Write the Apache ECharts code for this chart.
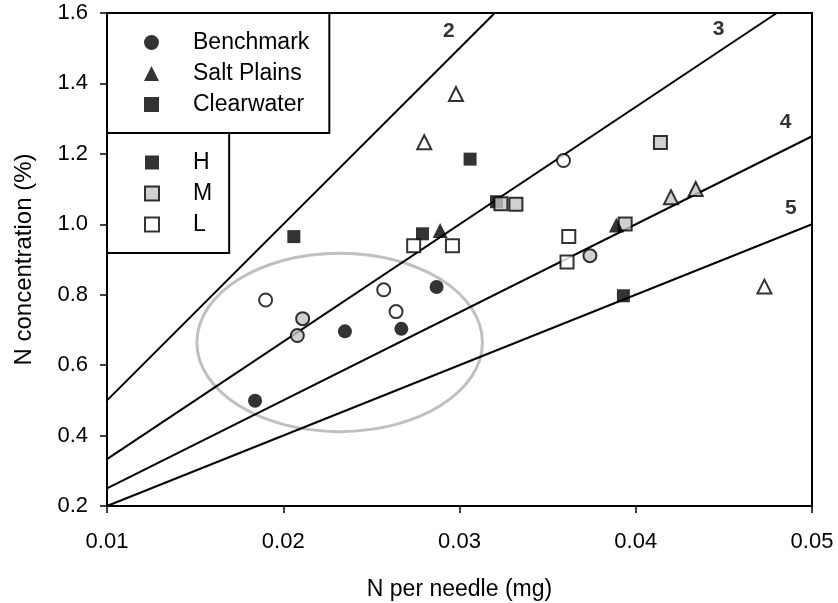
<!DOCTYPE html>
<html>
<head>
<meta charset="utf-8">
<title>N concentration vs N per needle</title>
<script src="https://cdn.jsdelivr.net/npm/echarts@6.0.0/dist/echarts.min.js"></script>
<style>
  html, body { margin: 0; padding: 0; background: #fff; }
  #chart { width: 838px; height: 603px; }
</style>
</head>
<body>
<div id="chart"></div>
<script>
// axis ticks
const xTicks = [0.01, 0.02, 0.03, 0.04, 0.05];
const yTicks = [0.2, 0.4, 0.6, 0.8, 1.0, 1.2, 1.4, 1.6];

// Benchmark = circles
const benchmarkH = [[0.0184, 0.499], [0.0235, 0.696], [0.0267, 0.703], [0.0287, 0.822]];
const benchmarkM = [[0.0211, 0.732], [0.0208, 0.684], [0.0374, 0.911]];
const benchmarkL = [[0.0190, 0.785], [0.0257, 0.814], [0.0264, 0.752], [0.0359, 1.181]];

// Salt Plains = triangles
const saltH = [[0.0289, 0.982], [0.0389, 0.998]];
const saltM = [[0.0420, 1.077], [0.0434, 1.100]];
const saltL = [[0.0298, 1.370], [0.0280, 1.233], [0.0473, 0.823]];

// Clearwater = squares
const clearH = [[0.0206, 0.965], [0.0306, 1.185], [0.0279, 0.973], [0.0393, 0.797], [0.0321, 1.064]];
const clearM = [[0.03235, 1.058], [0.0332, 1.057], [0.0414, 1.232], [0.0394, 1.001]];
const clearL = [[0.0274, 0.939], [0.0296, 0.939], [0.0362, 0.965], [0.0361, 0.893]];

// needle mass lines (2, 3, 4, 5 mg)
const line2 = [[0.01, 0.5], [0.032, 1.6]];
const line3 = [[0.01, 0.333], [0.048, 1.6]];
const line4 = [[0.01, 0.25], [0.05, 1.25]];
const line5 = [[0.01, 0.2], [0.05, 1.0]];
const lineLabels = ['2', '3', '4', '5'];
const lineLabelPos = [[0.0294, 1.549], [0.0447, 1.555], [0.0485, 1.289], [0.0488, 1.047]];

// grey ellipse: cx, cy, rx, ry
const ellipse = [0.0232, 0.6645, 0.0081, 0.2534];

const FONT = 'Liberation Sans, Arial, sans-serif';
const GREY = '#c4c4c4';

const styles = {
  H: { color: '#000' },
  M: { color: GREY, borderColor: '#000', borderWidth: 2 },
  L: { color: '#fff', borderColor: '#000', borderWidth: 2 }
};

function pointSeries(name, symbol, size, level, data) {
  return {
    name: name,
    type: 'scatter',
    symbol: symbol,
    symbolSize: size,
    data: data,
    itemStyle: styles[level],
    z: 5
  };
}

function massLine(data) {
  return {
    type: 'line',
    data: data,
    showSymbol: false,
    symbol: 'none',
    silent: true,
    lineStyle: { color: '#000', width: 2 },
    z: 3
  };
}

// legend-only series, no data
function legendSeries(name, symbol, style) {
  return {
    name: name,
    type: 'scatter',
    symbol: symbol,
    data: [],
    itemStyle: style
  };
}

const chart = echarts.init(document.getElementById('chart'));

// text padding pushes the label away from the small icon
const legendText = { color: '#000', fontSize: 23, fontFamily: FONT, lineHeight: 23, padding: [0, 0, 0, 29] };

const option = {
  animation: false,
  grid: {
    left: 107,
    right: 26,
    top: 13,
    bottom: 97,
    outerBoundsMode: 'none',
    show: true,
    borderColor: '#000',
    borderWidth: 2
  },
  legend: [
    {
      data: ['Benchmark', 'Salt Plains', 'Clearwater'],
      orient: 'vertical',
      left: 107,
      top: 13,
      padding: [18, 20, 17, 37],
      itemWidth: 15,
      itemHeight: 15,
      itemGap: 8,
      selectedMode: false,
      backgroundColor: '#fff',
      borderColor: '#000',
      borderWidth: 2,
      borderRadius: 0,
      textStyle: legendText
    },
    {
      data: ['H', 'M', 'L'],
      orient: 'vertical',
      left: 107,
      top: 133,
      padding: [18, 17, 17, 37],
      itemWidth: 14,
      itemHeight: 14,
      itemGap: 8,
      selectedMode: false,
      backgroundColor: '#fff',
      borderColor: '#000',
      borderWidth: 2,
      borderRadius: 0,
      textStyle: legendText
    }
  ],
  xAxis: {
    type: 'value',
    min: xTicks[0],
    max: xTicks[xTicks.length - 1],
    interval: 0.01,
    name: 'N per needle (mg)',
    nameLocation: 'middle',
    nameGap: 72,
    nameTextStyle: { color: '#000', fontSize: 23, fontFamily: FONT },
    axisLine: { lineStyle: { color: '#000', width: 2 } },
    axisTick: { show: true, inside: false, length: 7, lineStyle: { color: '#000', width: 1.5 } },
    axisLabel: {
      color: '#000',
      fontSize: 22,
      fontFamily: FONT,
      margin: 25,
      formatter: function (v) { return v.toFixed(2); }
    },
    splitLine: { show: false }
  },
  yAxis: {
    type: 'value',
    min: yTicks[0],
    max: yTicks[yTicks.length - 1],
    interval: 0.2,
    name: 'N concentration (%)',
    nameLocation: 'middle',
    nameGap: 71,
    nameTextStyle: { color: '#000', fontSize: 24, fontFamily: FONT },
    axisLine: { lineStyle: { color: '#000', width: 2 } },
    axisTick: { show: true, inside: false, length: 7, lineStyle: { color: '#000', width: 1.5 } },
    axisLabel: {
      color: '#000',
      fontSize: 22,
      fontFamily: FONT,
      margin: 19,
      formatter: function (v) { return v.toFixed(1); }
    },
    splitLine: { show: false }
  },
  series: [
    legendSeries('Benchmark', 'circle', { color: '#000' }),
    legendSeries('Salt Plains', 'triangle', { color: '#000' }),
    legendSeries('Clearwater', 'rect', { color: '#000' }),
    legendSeries('H', 'rect', styles.H),
    legendSeries('M', 'rect', styles.M),
    legendSeries('L', 'rect', styles.L),

    // ellipse
    {
      type: 'custom',
      data: [ellipse],
      silent: true,
      z: 2,
      renderItem: function (params, api) {
        const c = api.coord([api.value(0), api.value(1)]);
        const s = api.size([api.value(2), api.value(3)]);
        return {
          type: 'ellipse',
          shape: { cx: c[0], cy: c[1], rx: s[0], ry: s[1] },
          style: { fill: 'none', stroke: '#c0c0c0', lineWidth: 3 }
        };
      }
    },

    massLine(line2),
    massLine(line3),
    massLine(line4),
    massLine(line5),

    // line labels
    {
      type: 'scatter',
      symbolSize: 1,
      silent: true,
      itemStyle: { color: 'rgba(0,0,0,0)' },
      data: lineLabelPos.map((p, i) => ({ value: p, name: lineLabels[i] })),
      label: {
        show: true,
        position: 'inside',
        formatter: '{b}',
        color: '#000',
        fontSize: 21,
        fontWeight: 'bold',
        fontFamily: FONT
      },
      z: 4
    },

    pointSeries('Clearwater H', 'rect', 13, 'H', clearH),
    pointSeries('Clearwater M', 'rect', 13, 'M', clearM),
    pointSeries('Clearwater L', 'rect', 13, 'L', clearL),
    pointSeries('Benchmark H', 'circle', 14, 'H', benchmarkH),
    pointSeries('Benchmark M', 'circle', 13, 'M', benchmarkM),
    pointSeries('Benchmark L', 'circle', 13, 'L', benchmarkL),
    pointSeries('Salt Plains H', 'triangle', 15, 'H', saltH),
    pointSeries('Salt Plains M', 'triangle', 14, 'M', saltM),
    pointSeries('Salt Plains L', 'triangle', 14, 'L', saltL)
  ]
};

chart.setOption(option);
</script>
</body>
</html>
